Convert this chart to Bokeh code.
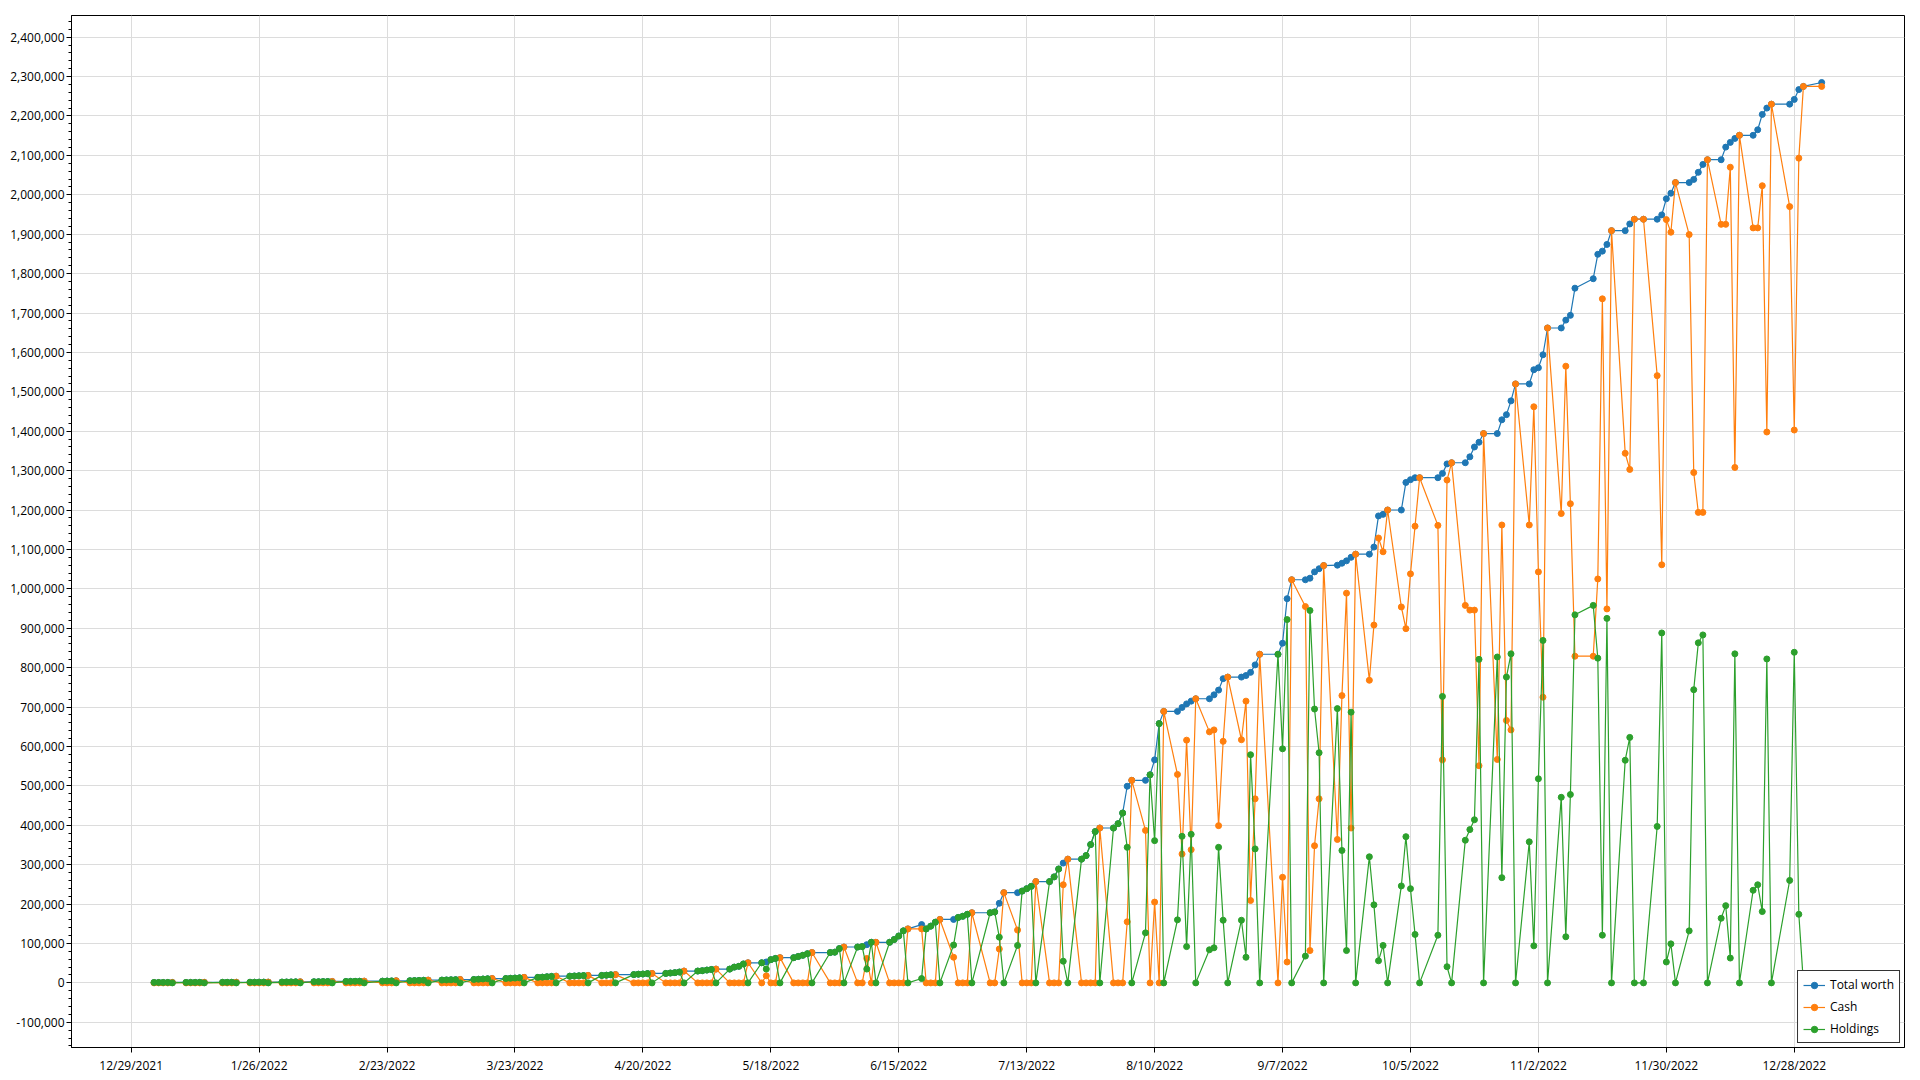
import pandas as pd
from bokeh.plotting import figure
from bokeh.models import (ColumnDataSource, FixedTicker, SingleIntervalTicker, NumeralTickFormatter,
                          CustomJSTickFormatter, Range1d, Legend, LegendItem)
from bokeh.embed import file_html
from bokeh.resources import INLINE

# ---------------- data (values in thousands) ----------------
trading_days = {
    "2022-01": [3, 4, 5, 6, 7, 10, 11, 12, 13, 14, 18, 19, 20, 21, 24, 25, 26, 27, 28, 31],
    "2022-02": [1, 2, 3, 4, 7, 8, 9, 10, 11, 14, 15, 16, 17, 18, 22, 23, 24, 25, 28],
    "2022-03": [1, 2, 3, 4, 7, 8, 9, 10, 11, 14, 15, 16, 17, 18, 21, 22, 23, 24, 25, 28, 29, 30, 31],
    "2022-04": [1, 4, 5, 6, 7, 8, 11, 12, 13, 14, 18, 19, 20, 21, 22, 25, 26, 27, 28, 29],
    "2022-05": [2, 3, 4, 5, 6, 9, 10, 11, 12, 13, 16, 17, 18, 19, 20, 23, 24, 25, 26, 27, 31],
    "2022-06": [1, 2, 3, 6, 7, 8, 9, 10, 13, 14, 15, 16, 17, 20, 21, 22, 23, 24, 27, 28, 29, 30],
    "2022-07": [1, 5, 6, 7, 8, 11, 12, 13, 14, 15, 18, 19, 20, 21, 22, 25, 26, 27, 28, 29],
    "2022-08": [1, 2, 3, 4, 5, 8, 9, 10, 11, 12, 15, 16, 17, 18, 19, 22, 23, 24, 25, 26, 29, 30, 31],
    "2022-09": [1, 2, 6, 7, 8, 9, 12, 13, 14, 15, 16, 19, 20, 21, 22, 23, 26, 27, 28, 29, 30],
    "2022-10": [3, 4, 5, 6, 7, 11, 12, 13, 14, 17, 18, 19, 20, 21, 24, 25, 26, 27, 28, 31],
    "2022-11": [1, 2, 3, 4, 7, 8, 9, 10, 14, 15, 16, 17, 18, 21, 22, 23, 25, 28, 29, 30],
    "2022-12": [1, 2, 5, 6, 7, 8, 9, 12, 13, 14, 15, 16, 19, 20, 21, 22, 23, 27, 28, 29, 30],
    "2023-01": [3],
}

total_worth_k = [
    1.0, 1.0, 1.05, 1.1, 1.15, 1.15, 1.2, 1.25, 1.3, 1.35, 1.35, 1.4, 1.5, 1.6, 1.6, 1.7, 1.8, 1.9, 2.0, 2.0,
    2.2, 2.4, 2.6, 2.8, 2.8, 3.0, 3.2, 3.4, 3.6, 3.6, 3.8, 4.0, 4.2, 4.4, 4.4, 4.7, 5.0, 5.4, 5.4,
    5.8, 6.2, 6.6, 7.0, 7.0, 7.4, 7.8, 8.2, 8.6, 8.6, 9.2, 9.8, 10.4, 11.0, 11.0, 11.6, 12.2, 12.8, 14.0, 14.0, 14.5, 15.5, 16.5,
    17, 17, 17.5, 18, 18.5, 19, 19, 19.5, 20.5, 21, 21, 22, 22.5, 23.5, 24, 24, 25, 26, 27.5, 30,
    30, 31, 32.5, 34, 35, 35, 40, 42, 48, 51, 51, 53, 59, 62, 64, 64, 67, 70, 74, 77, 77,
    78, 87, 91, 91, 92, 97, 103, 103, 103, 110, 119, 132, 137, 148, 137, 144, 154, 161, 161, 166, 169, 174,
    178, 178, 180, 202, 229, 229, 233, 239, 245, 257, 257, 269, 289, 304, 314, 314, 323, 351, 384, 393,
    393, 404, 431, 499, 514, 514, 528, 566, 658, 689, 689, 699, 708, 715, 721, 721, 731, 743, 772, 776, 776, 780, 788,
    807, 834, 834, 862, 975, 1023, 1023, 1027, 1043, 1051, 1059, 1060, 1065, 1071, 1080, 1088, 1088, 1106, 1185, 1189, 1200,
    1200, 1270, 1277, 1282, 1282, 1282, 1293, 1317, 1320, 1320, 1335, 1360, 1372, 1394, 1394, 1429, 1442, 1477, 1520, 1520,
    1556, 1561, 1594, 1662, 1662, 1682, 1694, 1763, 1787, 1849, 1857, 1874, 1909, 1909, 1926, 1938, 1938, 1938, 1949, 1990,
    2004, 2031, 2031, 2039, 2057, 2077, 2089, 2089, 2121, 2133, 2143, 2151, 2151, 2165, 2204, 2220, 2230, 2230, 2242, 2267, 2275,
    2285,
]

cash_k = [
    0, 0, 0, 0, 1.15, 0, 0, 0, 0, 1.35, 0, 0, 0, 1.6, 0, 0, 0, 0, 2.0, 0,
    0, 0, 0, 2.8, 0, 0, 0, 0, 3.6, 0, 0, 0, 0, 4.4, 0, 0, 0, 5.4, 0,
    0, 0, 0, 7.0, 0, 0, 0, 0, 8.6, 0, 0, 0, 0, 11.0, 0, 0, 0, 0, 14.0, 0, 0, 0, 0,
    17, 0, 0, 0, 0, 19, 0, 0, 0, 21, 0, 0, 0, 0, 24, 0, 0, 0, 0, 30,
    0, 0, 0, 0, 35, 0, 0, 0, 0, 51, 0, 18, 0, 0, 64, 0, 0, 0, 0, 77, 0,
    0, 0, 91, 0, 0, 62, 0, 103, 0, 0, 0, 0, 137, 137, 0, 0, 0, 161, 65, 0, 0, 0,
    178, 0, 0, 86, 229, 134, 0, 0, 0, 257, 0, 0, 0, 249, 314, 0, 0, 0, 0, 393,
    0, 0, 0, 155, 514, 387, 0, 205, 0, 689, 529, 327, 616, 338, 721, 637, 642, 399, 613, 776, 617, 715, 209,
    467, 834, 0, 268, 53, 1023, 955, 82, 348, 467, 1059, 364, 729, 989, 393, 1088, 768, 908, 1129, 1094, 1200,
    954, 899, 1038, 1159, 1282, 1161, 566, 1276, 1320, 958, 946, 946, 551, 1394, 567, 1162, 666, 642, 1520, 1162,
    1462, 1043, 725, 1662, 1191, 1565, 1216, 829, 829, 1025, 1736, 949, 1909, 1344, 1303, 1938, 1938, 1541, 1061, 1937,
    1905, 2031, 1899, 1295, 1194, 1194, 2089, 1925, 1925, 2070, 1308, 2151, 1916, 1916, 2023, 1398, 2230, 1970, 1403, 2093, 2275,
    2275,
]

holdings_k = [
    1.0, 1.0, 1.05, 1.1, 0, 1.15, 1.2, 1.25, 1.3, 0, 1.35, 1.4, 1.5, 0, 1.6, 1.7, 1.8, 1.9, 0, 2.0,
    2.2, 2.4, 2.6, 0, 2.8, 3.0, 3.2, 3.4, 0, 3.6, 3.8, 4.0, 4.2, 0, 4.4, 4.7, 5.0, 0, 5.4,
    5.8, 6.2, 6.6, 0, 7.0, 7.4, 7.8, 8.2, 0, 8.6, 9.2, 9.8, 10.4, 0, 11.0, 11.6, 12.2, 12.8, 0, 14.0, 14.5, 15.5, 16.5,
    0, 17, 17.5, 18, 18.5, 0, 19, 19.5, 20.5, 0, 21, 22, 22.5, 23.5, 0, 24, 25, 26, 27.5, 0,
    30, 31, 32.5, 34, 0, 35, 40, 42, 48, 0, 51, 35, 59, 62, 0, 64, 67, 70, 74, 0, 77,
    78, 87, 0, 91, 92, 35, 103, 0, 103, 110, 119, 132, 0, 11, 137, 144, 154, 0, 96, 166, 169, 174,
    0, 178, 180, 116, 0, 95, 233, 239, 245, 0, 257, 269, 289, 55, 0, 314, 323, 351, 384, 0,
    393, 404, 431, 344, 0, 127, 528, 361, 658, 0, 160, 372, 92, 377, 0, 84, 89, 344, 159, 0, 159, 65, 579,
    340, 0, 834, 594, 922, 0, 68, 945, 695, 584, 0, 696, 336, 82, 687, 0, 320, 198, 56, 95, 0,
    246, 371, 239, 123, 0, 121, 727, 41, 0, 362, 389, 414, 821, 0, 827, 267, 776, 835, 0, 358,
    94, 518, 869, 0, 471, 117, 478, 934, 958, 824, 121, 925, 0, 565, 623, 0, 0, 397, 888, 53,
    99, 0, 132, 744, 863, 883, 0, 164, 196, 63, 835, 0, 235, 249, 181, 822, 0, 260, 839, 174, 0,
    10,
]

tick_dates = ["2021-12-29", "2022-01-26", "2022-02-23", "2022-03-23", "2022-04-20", "2022-05-18",
              "2022-06-15", "2022-07-13", "2022-08-10", "2022-09-07", "2022-10-05", "2022-11-02",
              "2022-11-30", "2022-12-28"]

series_names = ["Total worth", "Cash", "Holdings"]
series_colors = ["#1f77b4", "#ff7f0e", "#2ca02c"]

# ---------------- build ----------------
dates = [pd.Timestamp(f"{m}-{d:02d}") for m, days in trading_days.items() for d in days]
src = ColumnDataSource(dict(
    date=dates,
    total=[v * 1000 for v in total_worth_k],
    cash=[v * 1000 for v in cash_k],
    hold=[v * 1000 for v in holdings_k],
))

t0 = pd.Timestamp("2021-12-29")
x_start = t0 - pd.Timedelta(days=13.07)
x_end = x_start + pd.Timedelta(days=401.2)

p = figure(x_axis_type="datetime", output_backend="svg", toolbar_location=None,
           frame_width=1833, frame_height=1032,
           min_border_left=71, min_border_top=15, min_border_right=16, min_border_bottom=30,
           x_range=Range1d(x_start, x_end), y_range=Range1d(-164000, 2455000),
           background_fill_color="white", border_fill_color="white")

p.outline_line_color = "black"
p.outline_line_width = 1
p.outline_line_alpha = 1

FONT = "Open Sans"
tick_ms = [pd.Timestamp(s).value // 10**6 for s in tick_dates]
p.xaxis.ticker = FixedTicker(ticks=tick_ms, minor_ticks=[])
p.xaxis.formatter = CustomJSTickFormatter(code="""
const d = new Date(tick);
return (d.getUTCMonth() + 1) + '/' + d.getUTCDate() + '/' + d.getUTCFullYear();
""")
p.yaxis.ticker = SingleIntervalTicker(interval=100000, num_minor_ticks=5)
p.yaxis.formatter = NumeralTickFormatter(format="0,0")

for ax in (p.xaxis[0], p.yaxis[0]):
    ax.axis_line_color = "black"
    ax.major_tick_line_color = "black"
    ax.minor_tick_line_color = "black"
    ax.major_tick_in = 0
    ax.major_tick_out = 5
    ax.minor_tick_in = 0
    ax.minor_tick_out = 3
    ax.major_label_text_font = FONT
    ax.major_label_text_font_size = "12px"
    ax.major_label_text_color = "black"
    ax.major_label_standoff = 2
p.xaxis.minor_tick_out = 0
p.xaxis.major_label_standoff = 4

p.xgrid.grid_line_color = "#dcdcdc"
p.ygrid.grid_line_color = "#dcdcdc"
p.xgrid.ticker = p.xaxis[0].ticker

items = []
for col, name, color in zip(["total", "cash", "hold"], series_names, series_colors):
    ln = p.line("date", col, source=src, line_color=color, line_width=1.2)
    sc = p.scatter("date", col, source=src, size=6, fill_color=color, line_color=color)
    items.append(LegendItem(label=name, renderers=[ln, sc]))

legend = Legend(items=items, location="bottom_right", margin=4, padding=5, spacing=5,
                glyph_width=22, glyph_height=16, label_height=16, label_standoff=5,
                label_text_font=FONT, label_text_font_size="12px", label_text_color="black",
                border_line_color="#333333", border_line_width=1, border_line_alpha=1,
                background_fill_color="white", background_fill_alpha=1)
p.add_layout(legend)

open("out.html", "w").write(file_html(p, INLINE))
